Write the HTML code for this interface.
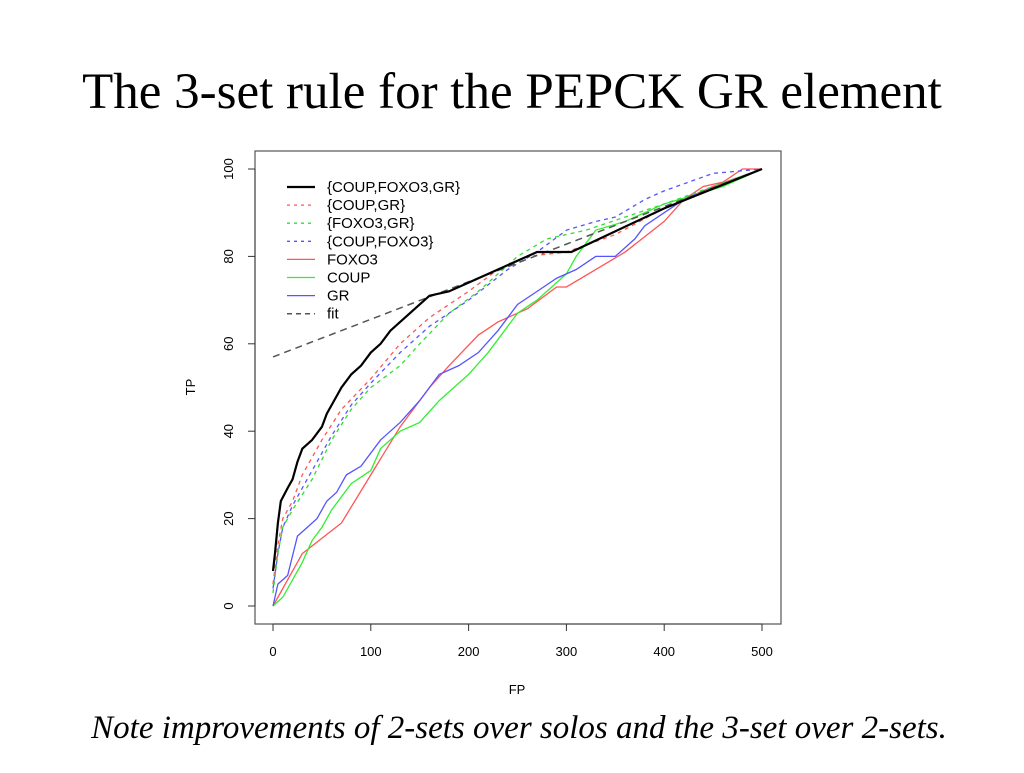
<!DOCTYPE html>
<html><head><meta charset="utf-8"><style>
body{margin:0;background:#fff;}
svg text{font-family:"Liberation Sans",sans-serif;}
</style></head><body>
<svg width="1024" height="768" xmlns="http://www.w3.org/2000/svg">
<text x="512" y="108" text-anchor="middle" style="font-family:'Liberation Serif',serif;font-size:51px">The 3-set rule for the PEPCK GR element</text>
<text x="519" y="738" text-anchor="middle" style="font-family:'Liberation Serif',serif;font-size:33px;font-style:italic">Note improvements of 2-sets over solos and the 3-set over 2-sets.</text>
<rect x="255" y="151" width="526" height="473" fill="none" stroke="#555" stroke-width="1.2"/>
<g id="axes"></g>
<g id="series"></g>
<g id="legend"></g>
<text x="517" y="694" text-anchor="middle" font-size="13">FP</text>
<text transform="translate(195,387) rotate(-90)" text-anchor="middle" font-size="13">TP</text>
</svg>
<script>
const xTicks=[0,100,200,300,400,500];
const yTicks=[0,20,40,60,80,100];
const seriesNames=["{COUP,FOXO3,GR}","{COUP,GR}","{FOXO3,GR}","{COUP,FOXO3}","FOXO3","COUP","GR","fit"];
const threeSet=[[0,8],[2,12],[5,19],[8,24],[15,27],[20,29],[25,33],[30,36],[35,37],[40,38],[50,41],[55,44],[60,46],[70,50],[80,53],[90,55],[100,58],[110,60],[120,63],[130,65],[140,67],[150,69],[160,71],[180,72],[200,74],[220,76],[240,78],[260,80],[270,81],[305,81],[400,91],[500,100]];
const coupGr=[[0,5],[5,14],[10,20],[20,24],[30,30],[50,38],[70,45],[100,52],[130,60],[160,66],[200,72],[230,77],[260,80],[300,81],[350,85],[400,91],[450,96],[500,100]];
const foxoGr=[[0,3],[5,12],[10,18],[20,22],[40,29],[60,38],[80,45],[100,50],[130,55],[150,60],[180,67],[210,72],[250,80],[280,84],[320,86],[360,89],[400,92],[450,96],[500,100]];
const coupFoxo=[[0,4],[5,12],[10,18],[20,23],[40,31],[60,39],[80,46],[100,51],[130,58],[160,64],[200,70],[240,77],[270,81],[300,86],[330,88],[350,89],[380,93],[400,95],[450,99],[500,100]];
const foxo3=[[0,0],[30,12],[70,19],[100,30],[130,41],[160,50],[180,55],[210,62],[230,65],[260,68],[290,73],[300,73],[330,77],[360,81],[400,88],[420,93],[440,96],[460,97],[480,100],[500,100]];
const coup=[[0,0],[10,2],[20,6],[30,10],[40,15],[50,18],[60,22],[80,28],[100,31],[110,36],[130,40],[150,42],[170,47],[200,53],[220,58],[250,67],[270,70],[300,76],[310,80],[330,86],[360,88],[400,92],[430,94],[460,96],[500,100]];
const gr=[[0,0],[5,5],[15,7],[25,16],[35,18],[45,20],[55,24],[65,26],[75,30],[90,32],[110,38],[130,42],[150,47],[170,53],[190,55],[210,58],[230,63],[250,69],[270,72],[290,75],[310,77],[330,80],[350,80],[370,84],[380,87],[400,90],[420,93],[450,96],[500,100]];
const fit=[[0,57],[500,100]];
const NS="http://www.w3.org/2000/svg";
const sx=v=>273+v*0.978, sy=v=>606-v*4.37;
function mk(t,a,p){const e=document.createElementNS(NS,t);for(const k in a)e.setAttribute(k,a[k]);p.appendChild(e);return e;}
const ax=document.getElementById('axes');
mk('line',{x1:sx(0),x2:sx(500),y1:624,y2:624,stroke:'#333'},ax);
mk('line',{x1:255,x2:255,y1:sy(0),y2:sy(100),stroke:'#333'},ax);
xTicks.forEach(v=>{
 const l=mk('line',{x1:sx(v),x2:sx(v),y1:624,y2:631,stroke:'#333'},ax);
 
 
 const t=mk('text',{x:sx(v),y:656,'text-anchor':'middle','font-size':13},ax);t.textContent=v;
 
 
});
yTicks.forEach(v=>{
 const l=mk('line',{x1:248,x2:255,y1:sy(v),y2:sy(v),stroke:'#333'},ax);
 
 
 const t=mk('text',{transform:`translate(233,${sy(v)}) rotate(-90)`,'text-anchor':'middle','font-size':13},ax);t.textContent=v;
 
 
});
const styles=[
 [threeSet,'#000',2.2,null,'series-coup-foxo3-gr'],
 [coupGr,'#f55',1.3,'4,4','series-coup-gr'],
 [foxoGr,'#3d3',1.3,'4,4','series-foxo3-gr'],
 [coupFoxo,'#55f',1.3,'4,4','series-coup-foxo3'],
 [foxo3,'#f55',1.3,null,'series-foxo3'],
 [coup,'#3e3',1.3,null,'series-coup'],
 [gr,'#55f',1.3,null,'series-gr'],
 [fit,'#555',1.5,'7,5','series-fit']];
const sg=document.getElementById('series');
[4,5,6,1,2,3,7,0].forEach(i=>{
 const s=styles[i];
 const p=mk('polyline',{points:s[0].map(d=>sx(d[0])+','+sy(d[1])).join(' '),fill:'none',stroke:s[1],'stroke-width':s[2]},sg);
 if(s[3])p.setAttribute('stroke-dasharray',s[3]);
 
 
});
const lg=document.getElementById('legend');
seriesNames.forEach((n,i)=>{
 const y=187+i*18.1,s=styles[i];
 const l=mk('line',{x1:287,x2:315,y1:y,y2:y,stroke:s[1],'stroke-width':s[2]},lg);
 if(s[3])l.setAttribute('stroke-dasharray',i==7?'5,4':'3,4');
 
 
 const t=mk('text',{x:327,y:y+5,'font-size':15},lg);t.textContent=n;
 
 
});
</script>
</body></html>
